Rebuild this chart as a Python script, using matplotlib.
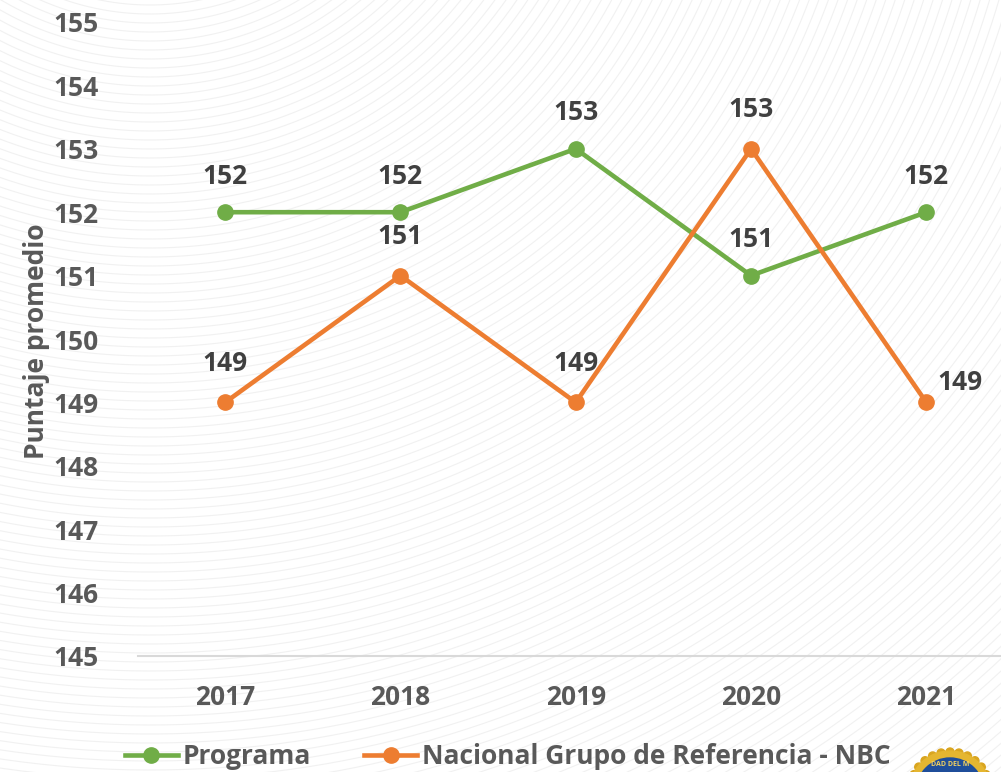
import matplotlib.pyplot as plt
import numpy as np
from matplotlib.patches import Circle

years = ["2017", "2018", "2019", "2020", "2021"]
programa = [152, 152, 153, 151, 152]
nacional = [149, 151, 149, 153, 149]

verde = "#70AD47"
naranja = "#ED7D31"
gris = "#595959"

plt.rcParams["font.family"] = ["Open Sans", "DejaVu Sans"]
plt.rcParams["font.weight"] = "bold"

fig = plt.figure(figsize=(10.01, 7.72), dpi=100)
fig.patch.set_facecolor("white")

# fondo con lineas concentricas muy tenues
bg = fig.add_axes([0, 0, 1, 1], zorder=-5)
bg.set_xlim(0, 1001)
bg.set_ylim(772, 0)
bg.axis("off")
t = np.linspace(0, 2 * np.pi, 720)
for r in np.arange(120, 1500, 9):
    bg.plot(150 + r * np.cos(t), -250 + r * np.sin(t), color="#f1f1f1", lw=0.8)

ax = fig.add_axes([137.5 / 1001, 1 - 656 / 772, 1 - 137.5 / 1001, (656 - 22) / 772])
ax.patch.set_alpha(0)
x = np.arange(len(years))

ax.plot(x, programa, color=verde, lw=3.3, marker="o", ms=11, label="Programa", zorder=3)
ax.plot(x, nacional, color=naranja, lw=3.3, marker="o", ms=11,
        label="Nacional Grupo de Referencia - NBC", zorder=3)

fs = 19
for i, v in enumerate(programa):
    ax.annotate(str(v), (i, v), xytext=(0, 26), textcoords="offset points",
                ha="center", va="center", fontsize=fs, color="#404040", fontweight="bold")
for i, v in enumerate(nacional):
    if i == len(nacional) - 1:
        ax.annotate(str(v), (i, v), xytext=(8, 14), textcoords="offset points",
                    ha="left", va="center", fontsize=fs, color="#404040", fontweight="bold")
    else:
        ax.annotate(str(v), (i, v), xytext=(0, 28), textcoords="offset points",
                    ha="center", va="center", fontsize=fs, color="#404040", fontweight="bold")

ax.set_xlim(-0.5, 4.426)
ax.set_ylim(145, 155)
ax.set_yticks(range(145, 156))
ax.set_xticks(x)
ax.set_xticklabels(years)
ax.tick_params(length=0, labelsize=fs, labelcolor=gris, pad=20)
ax.tick_params(axis="y", pad=28)
for lab in ax.get_xticklabels() + ax.get_yticklabels():
    lab.set_fontweight("bold")

for s in ["top", "right", "left"]:
    ax.spines[s].set_visible(False)
ax.spines["bottom"].set_color("#d9d9d9")
ax.spines["bottom"].set_linewidth(1.5)

fig.text(0.036, 1 - 341 / 772, "Puntaje promedio", rotation=90, ha="center", va="center",
         fontsize=19, color=gris, fontweight="bold")

ax.legend(loc="center left", bbox_to_anchor=(125 / 1001, 1 - 757 / 772),
          bbox_transform=fig.transFigure, ncol=2, frameon=False,
          handlelength=2.0, handletextpad=0.2, columnspacing=2.0,
          borderpad=0, borderaxespad=0, labelcolor=gris,
          prop={"weight": "bold", "size": fs})

# sello en la esquina inferior derecha
tr = fig.dpi_scale_trans
cx, cy = 9.5, -0.2
for a in np.linspace(0, 2 * np.pi, 28, endpoint=False):
    fig.patches.append(Circle((cx + 0.4 * np.cos(a), cy + 0.4 * np.sin(a)), 0.04,
                              transform=tr, color="#D9A520", zorder=10))
fig.patches.append(Circle((cx, cy), 0.41, transform=tr, color="#E5B630", zorder=10))
fig.patches.append(Circle((cx, cy), 0.34, transform=tr, color="#1F4E9A", zorder=11))
fig.text(cx / 10.01, 0.005, "DAD DEL M", ha="center", va="bottom", fontsize=5,
         color="#f0d060", zorder=12)

fig.savefig("out.png", dpi=100)
